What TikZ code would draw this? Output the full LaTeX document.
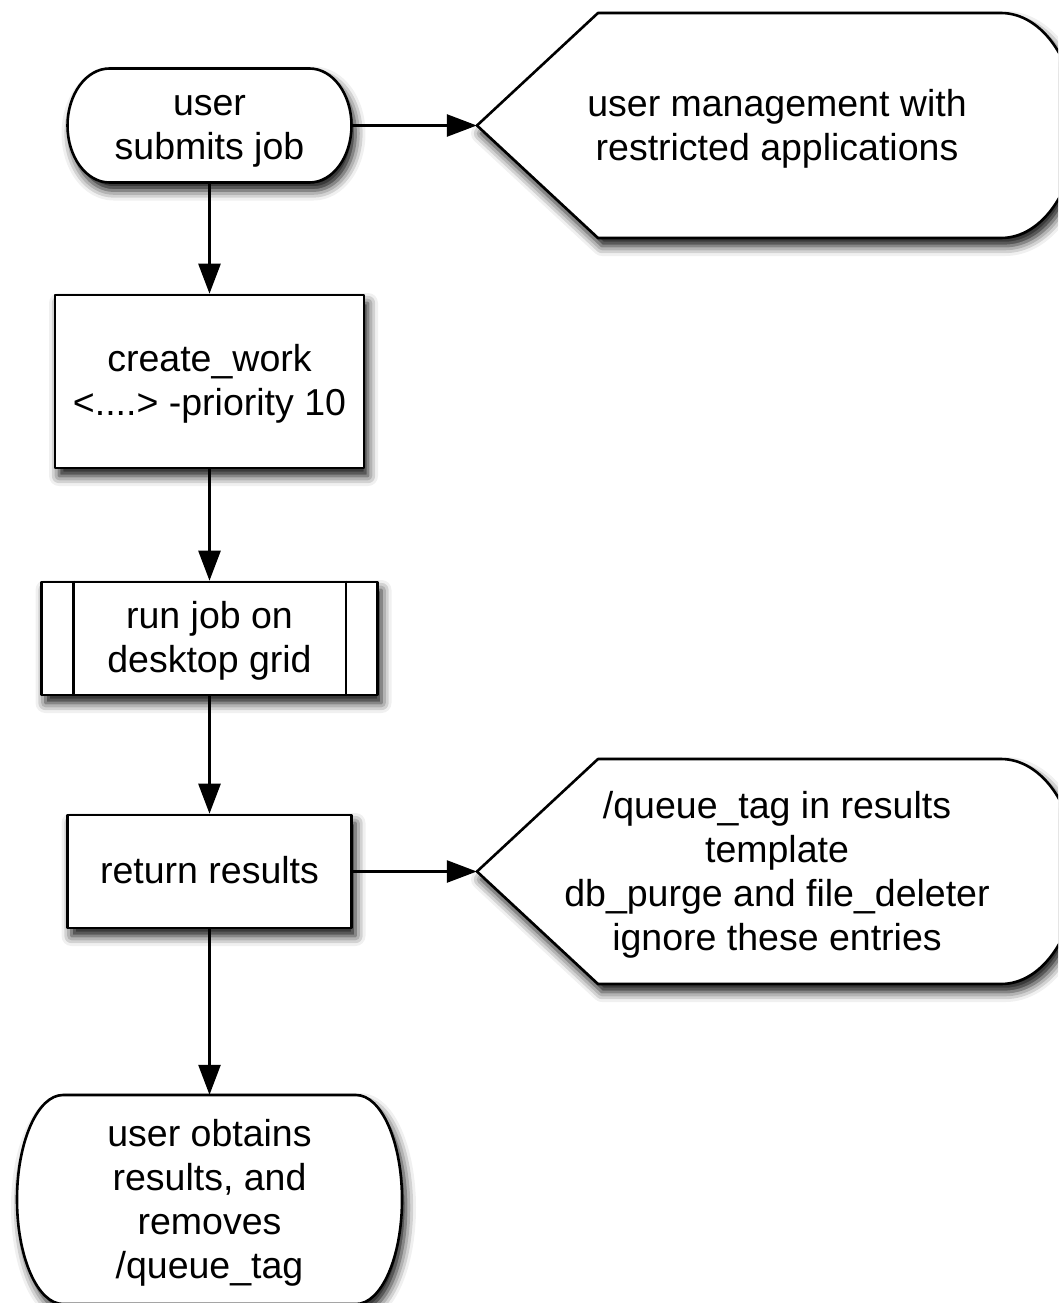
\documentclass[tikz,border=0pt]{standalone}
\usepackage{fontspec}
\setmainfont{Liberation Sans}
\usetikzlibrary{arrows.meta,shadows.blur}
\begin{document}
\begin{tikzpicture}[x=1pt,y=-1pt,
  shp/.style={draw=black, line width=2.6pt, fill=white, line join=round,
    blur shadow={shadow xshift=4pt, shadow yshift=-8pt, shadow blur radius=10pt, shadow opacity=95}},
  txt/.style={inner sep=0pt, align=center, font=\fontsize{37.5}{44}\selectfont},
  conn/.style={line width=2.6pt, draw=black, -{Triangle[length=30pt,width=22pt,fill=black]}}]
\useasboundingbox (0,0) rectangle (1058,1303);
\clip (0,0) rectangle (1058,1303);
% outlines of the special shapes
\path[shp] (109.5,68.5) -- (309.5,68.5) arc[start angle=-90,end angle=90,x radius=42,y radius=57] -- (109.5,182.5) arc[start angle=90,end angle=270,x radius=42,y radius=57] -- cycle;
\path[shp] (477,125.5) -- (598,13) -- (1001,13) arc[start angle=-90,end angle=90,x radius=76,y radius=112.5] -- (598,238) -- cycle;
\path[shp] (477,871.5) -- (598,759) -- (1001,759) arc[start angle=-90,end angle=90,x radius=76,y radius=112.5] -- (598,984) -- cycle;
\path[shp] (63,1095) -- (356,1095) arc[start angle=-90,end angle=90,x radius=46,y radius=104.5] -- (63,1304) arc[start angle=90,end angle=270,x radius=46,y radius=104.5] -- cycle;
% nodes
\node[inner sep=0pt, minimum width=285pt, minimum height=114pt,
  label={[txt, yshift=-6pt]center:{user\\submits job}}] (submit) at (209.5,125.5) {};
\node[inner sep=0pt, minimum width=600pt, minimum height=225pt,
  label={[txt, yshift=-3pt]center:{user management with\\restricted applications}}] (manage) at (777,125.5) {};
\node[shp, inner sep=0pt, minimum width=309pt, minimum height=173pt,
  label={[txt, yshift=-2pt]center:{create\_work\\<....> -priority 10}}] (create) at (209.5,381.5) {};
\node[shp, inner sep=0pt, minimum width=336pt, minimum height=113pt,
  label={[txt, yshift=-2pt]center:{run job on\\desktop grid}}] (run) at (209.5,638.5) {};
\draw[line width=2.6pt] ([xshift=33pt]run.north west) -- ([xshift=33pt]run.south west);
\draw[line width=2.6pt] ([xshift=-33pt]run.north east) -- ([xshift=-33pt]run.south east);
\node[shp, inner sep=0pt, minimum width=284pt, minimum height=113pt,
  label={[txt, yshift=1pt]center:{return results}}] (ret) at (209.5,871.5) {};
\node[inner sep=0pt, minimum width=600pt, minimum height=225pt,
  label={[txt, yshift=-3pt]center:{/queue\_tag in results\\template\\db\_purge and file\_deleter\\ignore these entries}}] (note) at (777,871.5) {};
\node[inner sep=0pt, minimum width=385pt, minimum height=209pt,
  label={[txt, yshift=-3pt]center:{user obtains\\results, and\\removes\\/queue\_tag}}] (obtain) at (209.5,1199.5) {};
% connectors
\draw[conn] (submit.east) -- (manage.west);
\draw[conn] (submit.south) -- (create.north);
\draw[conn] (create.south) -- (run.north);
\draw[conn] (run.south) -- (ret.north);
\draw[conn] (ret.east) -- (note.west);
\draw[conn] (ret.south) -- (obtain.north);
\end{tikzpicture}
\end{document}
